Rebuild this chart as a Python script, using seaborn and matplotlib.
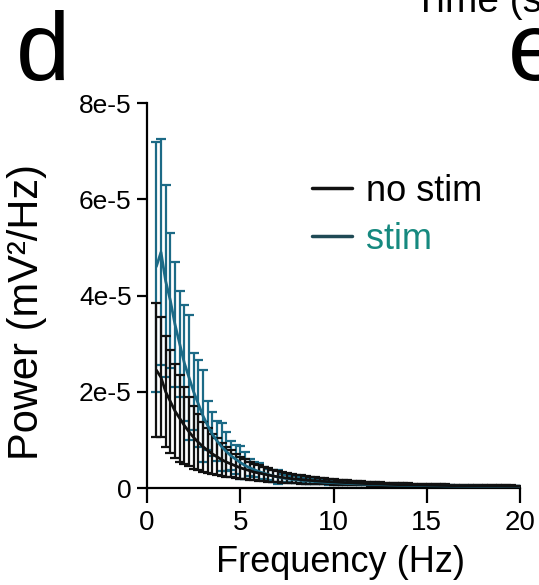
import matplotlib
matplotlib.use("Agg")
import matplotlib.pyplot as plt
import seaborn as sns
import numpy as np
import pandas as pd
from matplotlib.lines import Line2D

# ---- data (power in units of 1e-5 mV^2/Hz) ----
freqs = [0.5, 0.75,
         1.0, 1.25, 1.5, 1.75, 2.0, 2.25, 2.5, 2.75, 3.0, 3.25, 3.5, 3.75,
         4.0, 4.25, 4.5, 4.75, 5.0, 5.25, 5.5, 5.75, 6.0, 6.25, 6.5, 6.75,
         7.0, 7.25, 7.5, 7.75, 8.0, 8.25, 8.5, 8.75, 9.0, 9.25, 9.5, 9.75,
         10.0, 10.25, 10.5, 10.75, 11.0, 11.25, 11.5, 11.75, 12.0, 12.25, 12.5, 12.75,
         13.0, 13.25, 13.5, 13.75, 14.0, 14.25, 14.5, 14.75, 15.0, 15.25, 15.5, 15.75,
         16.0, 16.25, 16.5, 16.75, 17.0, 17.25, 17.5, 17.75, 18.0, 18.25, 18.5, 18.75,
         19.0, 19.25, 19.5, 19.75, 20.0]

stim_mean = [4.6, 4.9,
             4.3, 3.9, 3.4, 3.0, 2.6, 2.3, 2.0, 1.75, 1.5, 1.3, 1.12, 0.98,
             0.86, 0.76, 0.67, 0.6, 0.53, 0.47, 0.42, 0.38, 0.34, 0.31, 0.28, 0.25,
             0.23, 0.21, 0.195, 0.18, 0.17, 0.16, 0.15, 0.14, 0.135, 0.128, 0.12, 0.115,
             0.11, 0.105, 0.1, 0.095, 0.09, 0.086, 0.082, 0.079, 0.076, 0.073, 0.07, 0.067,
             0.064, 0.062, 0.06, 0.058, 0.056, 0.054, 0.052, 0.05, 0.049, 0.047, 0.046, 0.045,
             0.043, 0.042, 0.041, 0.04, 0.039, 0.038, 0.037, 0.036, 0.035, 0.034, 0.033, 0.032,
             0.031, 0.031, 0.03, 0.029, 0.029]

stim_sem = [2.6, 2.35,
            2.0, 1.4, 1.3, 1.1, 1.2, 1.3, 0.8, 0.9, 0.95, 0.5, 0.45, 0.42,
            0.5, 0.4, 0.3, 0.3, 0.34, 0.28, 0.18, 0.16, 0.18, 0.13, 0.12, 0.12,
            0.14, 0.09, 0.08, 0.07, 0.07, 0.06, 0.065, 0.055, 0.06, 0.05, 0.045, 0.05,
            0.045, 0.04, 0.035, 0.035, 0.03, 0.03, 0.028, 0.026, 0.025, 0.024, 0.022, 0.02,
            0.02, 0.019, 0.018, 0.017, 0.016, 0.015, 0.015, 0.014, 0.013, 0.013, 0.012, 0.012,
            0.011, 0.011, 0.01, 0.01, 0.01, 0.009, 0.009, 0.009, 0.008, 0.008, 0.008, 0.007,
            0.007, 0.007, 0.007, 0.006, 0.006]

nostim_mean = [2.45, 2.3,
               2.0, 1.8, 1.6, 1.45, 1.3, 1.17, 1.05, 0.95, 0.86, 0.78, 0.71, 0.65,
               0.59, 0.54, 0.5, 0.46, 0.42, 0.39, 0.36, 0.33, 0.31, 0.29, 0.27, 0.25,
               0.235, 0.22, 0.205, 0.195, 0.185, 0.175, 0.165, 0.157, 0.15, 0.143, 0.137, 0.131,
               0.125, 0.12, 0.115, 0.11, 0.105, 0.1, 0.096, 0.092, 0.088, 0.085, 0.082, 0.079,
               0.076, 0.073, 0.07, 0.068, 0.066, 0.064, 0.062, 0.06, 0.058, 0.056, 0.055, 0.053,
               0.052, 0.05, 0.049, 0.048, 0.046, 0.045, 0.044, 0.043, 0.042, 0.041, 0.04, 0.039,
               0.038, 0.037, 0.036, 0.035, 0.035]

nostim_sem = [1.4, 1.25,
              1.15, 1.07, 0.98, 0.9, 0.8, 0.72, 0.65, 0.58, 0.52, 0.47, 0.42, 0.38,
              0.34, 0.31, 0.28, 0.25, 0.23, 0.21, 0.19, 0.17, 0.16, 0.15, 0.14, 0.13,
              0.12, 0.11, 0.1, 0.095, 0.09, 0.085, 0.08, 0.075, 0.07, 0.066, 0.062, 0.058,
              0.055, 0.052, 0.05, 0.048, 0.046, 0.044, 0.042, 0.04, 0.038, 0.036, 0.035, 0.034,
              0.033, 0.032, 0.031, 0.03, 0.029, 0.028, 0.027, 0.026, 0.025, 0.025, 0.024, 0.023,
              0.023, 0.022, 0.022, 0.021, 0.021, 0.02, 0.02, 0.019, 0.019, 0.018, 0.018, 0.017,
              0.017, 0.017, 0.016, 0.016, 0.016]

series_labels = ["no stim", "stim"]
ytick_vals = [0, 2e-5, 4e-5, 6e-5, 8e-5]
ytick_labels = ["0", "2e-5", "4e-5", "6e-5", "8e-5"]
xtick_vals = [0, 5, 10, 15, 20]
xtick_labels = ["0", "5", "10", "15", "20"]

scale = 1e-5
df = pd.DataFrame({
    "freq": freqs * 2,
    "power": [v * scale for v in nostim_mean] + [v * scale for v in stim_mean],
    "sem": [v * scale for v in nostim_sem] + [v * scale for v in stim_sem],
    "cond": [series_labels[0]] * len(freqs) + [series_labels[1]] * len(freqs),
})

STIM_C = "#1c6a86"
NOSTIM_C = "#111111"
STIM_TXT = "#16897f"

sns.set_theme(style="ticks")
plt.rcParams["font.family"] = ["Liberation Sans", "DejaVu Sans"]
plt.rcParams["text.color"] = "black"
plt.rcParams["axes.labelcolor"] = "black"
plt.rcParams["xtick.color"] = "black"
plt.rcParams["ytick.color"] = "black"

W, H = 539, 585
fig = plt.figure(figsize=(W / 100, H / 100), dpi=100)
L, R, T, B = 147, 520, 103, 488
ax = fig.add_axes([L / W, 1 - B / H, (R - L) / W, (B - T) / H])

# stim first (behind), then no stim on top
for cond, col in [("stim", STIM_C), ("no stim", NOSTIM_C)]:
    d = df[df["cond"] == cond]
    ax.errorbar(d["freq"], d["power"], yerr=d["sem"], fmt="none",
                ecolor=col, elinewidth=1.6, capsize=3.4, capthick=1.6, zorder=2)
sns.lineplot(data=df, x="freq", y="power", hue="cond",
             hue_order=["stim", "no stim"],
             palette={"stim": STIM_C, "no stim": NOSTIM_C},
             linewidth=2, ax=ax, legend=False, zorder=3)

ax.set_xlim(0, 20)
ax.set_ylim(0, 8e-5)
ax.set_xticks(xtick_vals)
ax.set_xticklabels(xtick_labels)
ax.set_yticks(ytick_vals)
ax.set_yticklabels(ytick_labels)
ax.set_xlabel("")
ax.set_ylabel("")
for s in ["top", "right"]:
    ax.spines[s].set_visible(False)
for s in ["left", "bottom"]:
    ax.spines[s].set_linewidth(1.6)
    ax.spines[s].set_color("black")
ax.tick_params(axis="x", length=11, width=1.6, labelsize=20, pad=5, colors="black")
ax.tick_params(axis="y", length=7, width=1.6, labelsize=19, pad=4, colors="black")
ax.set_facecolor("white")

# legend
handles = [Line2D([], [], color=NOSTIM_C, lw=2.5), Line2D([], [], color="#1f4a55", lw=2.5)]
leg = ax.legend(handles, series_labels, frameon=False, fontsize=26,
                handlelength=1.1, handletextpad=0.4, labelspacing=0.36,
                borderpad=0, borderaxespad=0,
                loc="upper left", bbox_to_anchor=((312 - L) / (R - L), (B - 174) / (B - T)),
                labelcolor=["black", STIM_TXT])

# axis labels
fig.text(340 / W, 1 - 572 / H, "Frequency (Hz)", ha="center", va="baseline", fontsize=26)
fig.text(27 / W, 1 - 312 / H, "Power (mV²/Hz)", ha="center", va="center",
         rotation=90, fontsize=30)

# panel letters and neighbouring text
fig.text(16 / W, 1 - 80 / H, "d", ha="left", va="baseline", fontsize=70)
fig.text(508 / W, 1 - 80 / H, "e", ha="left", va="baseline", fontsize=70)
fig.text(414 / W, 1 - 12 / H, "Time (s)", ha="left", va="baseline", fontsize=28)

fig.savefig("out.png", dpi=100, facecolor="white")
